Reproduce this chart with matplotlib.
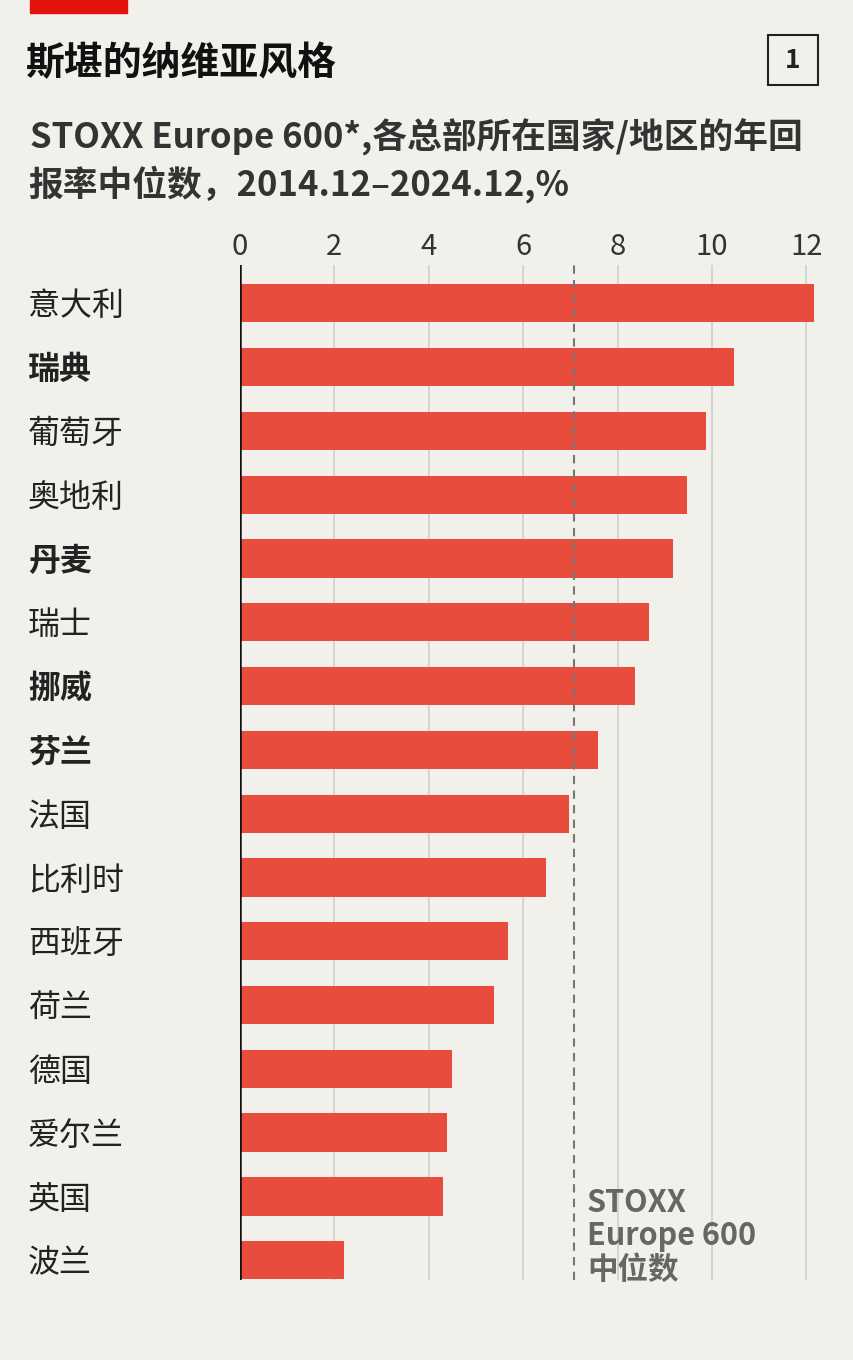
import matplotlib
matplotlib.use("Agg")
import matplotlib.pyplot as plt
from matplotlib.patches import Rectangle

plt.rcParams["font.family"] = "Noto Sans CJK SC"

countries = ["意大利", "瑞典", "葡萄牙", "奥地利", "丹麦", "瑞士", "挪威", "芬兰",
             "法国", "比利时", "西班牙", "荷兰", "德国", "爱尔兰", "英国", "波兰"]
returns = [12.16, 10.47, 9.87, 9.47, 9.17, 8.67, 8.37, 7.58,
           6.97, 6.48, 5.68, 5.38, 4.49, 4.39, 4.30, 2.20]
nordic = ["瑞典", "丹麦", "挪威", "芬兰"]
median = 7.08
ticks = [0, 2, 4, 6, 8, 10, 12]

bg = "#f1f0eb"
W, H = 854, 1360
fig = plt.figure(figsize=(W / 100, H / 100), dpi=100, facecolor=bg)

ax = fig.add_axes([240 / W, 1 - 1280 / H, 590 / W, 1015 / H], facecolor=bg)
y = list(range(len(countries)))
ax.barh(y, returns, height=0.6, color="#e84c3d", zorder=3)
ax.set_xlim(0, 12.5)
ax.set_ylim(15.31, -0.6)
ax.axvline(median, color="#777777", lw=1.5, ls=(0, (4, 3)), zorder=4)
ax.axvline(0, color="#111111", lw=1.8, zorder=5)
for t in ticks[1:]:
    ax.axvline(t, color="#cfcfcf", lw=1.2, zorder=1)
for s in ax.spines.values():
    s.set_visible(False)
ax.xaxis.tick_top()
ax.set_xticks(ticks)
ax.set_xticklabels([str(t) for t in ticks], fontsize=21, color="#333333")
ax.tick_params(axis="x", length=0, pad=2)
ax.set_yticks([])

for i, c in enumerate(countries):
    ax.text(-212 / 47.2, i + 0.05, c, ha="left", va="center", fontsize=23,
            fontweight="bold" if c in nordic else "normal", color="#222222")

ax.text(median + 0.27, 15.4, "STOXX\nEurope 600\n中位数", ha="left", va="bottom",
        fontsize=22, fontweight="bold", color="#666666", linespacing=1.05, zorder=6)

# header
fig.patches.append(Rectangle((30 / W, 1 - 13 / H), 97 / W, 13 / H,
                             transform=fig.transFigure, color="#e3120b"))
fig.text(26 / W, 1 - 64 / H, "斯堪的纳维亚风格", fontsize=28, fontweight="bold",
         va="center", ha="left", color="#111111")
fig.patches.append(Rectangle((768 / W, 1 - 85 / H), 50 / W, 50 / H,
                             transform=fig.transFigure, fill=False, ec="#222222", lw=1.5))
fig.text(793 / W, 1 - 61 / H, "1", fontsize=19, fontweight="bold", ha="center",
         va="center", color="#222222")
fig.text(30 / W, 1 - 137 / H, "STOXX Europe 600*,各总部所在国家/地区的年回", fontsize=25,
         fontweight="bold", va="center", ha="left", color="#333333")
fig.text(28 / W, 1 - 184 / H, "报率中位数，2014.12–2024.12,%", fontsize=25,
         fontweight="bold", va="center", ha="left", color="#333333")

fig.savefig("out.png", dpi=100, facecolor=bg)
